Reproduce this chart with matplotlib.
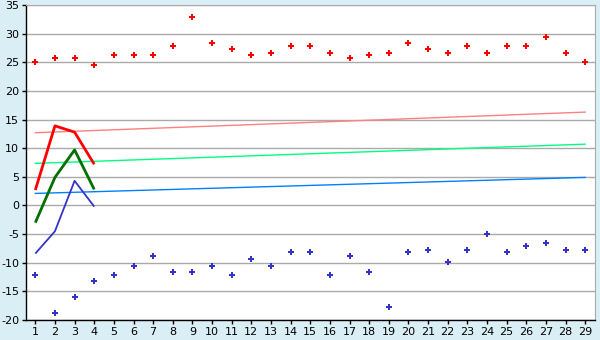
import numpy as np
import matplotlib
matplotlib.use('Agg')
import matplotlib.pyplot as plt

plt.rcParams['axes.unicode_minus'] = False

# x positions 1..29
days = list(range(1, 30))

# scatter series
red_pts = [25.0, 25.7, 25.7, 24.5, 26.2, 26.2, 26.2, 27.8, 32.9, 28.3,
           27.3, 26.2, 26.7, 27.8, 27.8, 26.7, 25.7, 26.2, 26.7, 28.3,
           27.3, 26.7, 27.8, 26.7, 27.8, 27.8, 29.4, 26.7, 25.0]
blue_pts = [-12.2, -18.8, -16.0, -13.2, -12.2, -10.6, -8.9, -11.7, -11.7, -10.6,
            -12.2, -9.4, -10.6, -8.2, -8.2, -12.2, -8.9, -11.7, -17.8, -8.2,
            -7.8, -9.9, -7.8, -5.0, -8.2, -7.1, -6.6, -7.8, -7.8]

# short lines over the first four days
line_x = [1, 2, 3, 4]
red_line = [2.7, 13.9, 12.8, 7.2]
green_line = [-3.0, 4.9, 9.7, 2.8]
blue_line = [-8.4, -4.5, 4.3, -0.2]

# trend lines (start, end) across x = 1..29
trend_x = [1, 29]
pink_trend = [12.7, 16.3]
lgreen_trend = [7.35, 10.7]
lblue_trend = [2.1, 4.9]

y_ticks = list(range(-20, 36, 5))

bg = '#daeef5'
fig = plt.figure(figsize=(6, 3.4), dpi=100, facecolor=bg)
ax = fig.add_axes([25.5 / 600, 20 / 340, 569.5 / 600, 315 / 340])
ax.set_facecolor('white')

ax.set_axisbelow(True)
ax.grid(axis='y', color='#aaaaaa', linewidth=1)

ax.plot(trend_x, pink_trend, color='#ff8080', lw=1)
ax.plot(trend_x, lgreen_trend, color='#00ff80', lw=1)
ax.plot(trend_x, lblue_trend, color='#0080ff', lw=1)

ax.plot(line_x, red_line, color='#ff0000', lw=2.0, solid_capstyle='butt')
ax.plot(line_x, green_line, color='#007000', lw=2.0, solid_capstyle='butt')
ax.plot(line_x, blue_line, color='#3333cc', lw=1.3, solid_capstyle='butt')

ax.plot(days, red_pts, linestyle='none', marker='P', ms=4.8, color='#ff0000', mew=0)
ax.plot(days, blue_pts, linestyle='none', marker='P', ms=4.8, color='#3333cc', mew=0)

ax.set_xlim(0.5, 29.5)
ax.set_ylim(-20, 35)
ax.set_xticks(days)
ax.set_yticks(y_ticks)
ax.tick_params(axis='both', labelsize=8, length=3, width=1, color='black', pad=2)
ax.tick_params(axis='y', pad=1.5)

for side in ('top', 'right'):
    ax.spines[side].set_color('#aaaaaa')
for side in ('left', 'bottom'):
    ax.spines[side].set_color('black')
    ax.spines[side].set_linewidth(1)

fig.savefig('out.png', dpi=100, facecolor=bg)
